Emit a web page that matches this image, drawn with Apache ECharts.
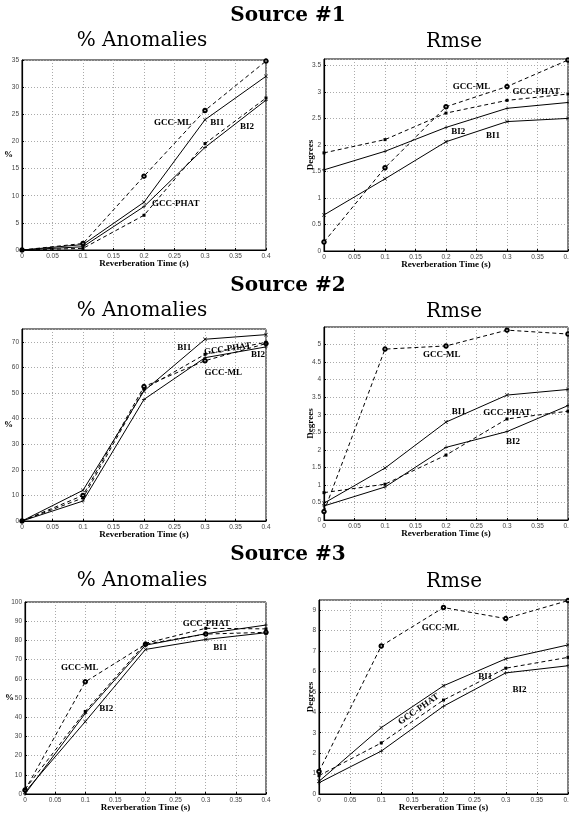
<!DOCTYPE html>
<html><head><meta charset="utf-8">
<script src="https://cdn.jsdelivr.net/npm/echarts@6/dist/echarts.min.js"></script>
<style>html,body{margin:0;padding:0;background:#fff}#c{width:569px;height:813px}</style>
</head><body><div id="c"></div>
<script>
// ---------- data ----------
const xTimes = [0, 0.1, 0.2, 0.3, 0.4];
const xTickLabels = ['0','0.05','0.1','0.15','0.2','0.25','0.3','0.35','0.4'];
const sourceTitles = ['Source #1', 'Source #2', 'Source #3'];
const seriesNames = ['GCC-ML', 'GCC-PHAT', 'BI1', 'BI2'];

// Source 1
const s1AnomGccMl   = [0, 1.2, 13.6, 25.7, 34.8];
const s1AnomGccPhat = [0, 0.3, 6.4, 19.6, 28.0];
const s1AnomBi1     = [0, 1.0, 8.8, 24.0, 32.0];
const s1AnomBi2     = [0, 0.6, 8.0, 18.9, 27.6];
const s1RmseGccMl   = [0.17, 1.57, 2.72, 3.10, 3.60];
const s1RmseGccPhat = [1.85, 2.10, 2.60, 2.84, 2.96];
const s1RmseBi1     = [0.68, 1.36, 2.06, 2.44, 2.50];
const s1RmseBi2     = [1.53, 1.88, 2.33, 2.69, 2.80];
// Source 2
const s2AnomGccMl   = [0, 10, 52.5, 62.6, 69.3];
const s2AnomGccPhat = [0, 9, 51.5, 65.1, 69.8];
const s2AnomBi1     = [0, 12, 50.8, 71.0, 72.8];
const s2AnomBi2     = [0, 7.8, 47.5, 63.8, 68.0];
const s2RmseGccMl   = [0.24, 4.87, 4.96, 5.41, 5.30];
const s2RmseGccPhat = [0.78, 1.02, 1.85, 2.88, 3.10];
const s2RmseBi1     = [0.48, 1.48, 2.79, 3.56, 3.72];
const s2RmseBi2     = [0.40, 0.94, 2.07, 2.52, 3.26];
// Source 3
const s3AnomGccMl   = [2, 58.4, 78.0, 83.3, 84.2];
const s3AnomGccPhat = [2.5, 43, 78.5, 86.3, 86.0];
const s3AnomBi1     = [1, 37.7, 75.3, 80.5, 84.0];
const s3AnomBi2     = [0, 42, 77.5, 83.5, 88.0];
const s3RmseGccMl   = [1.10, 7.25, 9.13, 8.59, 9.47];
const s3RmseGccPhat = [0.90, 2.50, 4.60, 6.16, 6.69];
const s3RmseBi1     = [0.62, 3.25, 5.30, 6.62, 7.30];
const s3RmseBi2     = [0.55, 2.10, 4.30, 5.93, 6.28];

// in-plot labels: [text, x, y, rotation]
const notes = [
  [['GCC-ML',0.247,23.4,0],['BI1',0.32,23.4,0],['BI2',0.369,22.7,0],['GCC-PHAT',0.252,8.5,0]],
  [['GCC-ML',0.242,3.09,0],['GCC-PHAT',0.348,3.0,0],['BI2',0.22,2.25,0],['BI1',0.277,2.17,0]],
  [['BI1',0.266,67.7,0],['GCC-PHAT',0.337,67.2,8],['BI2',0.387,65.1,0],['GCC-ML',0.33,58,0]],
  [['GCC-ML',0.193,4.71,0],['BI1',0.221,3.09,0],['GCC-PHAT',0.30,3.07,0],['BI2',0.31,2.22,0]],
  [['GCC-PHAT',0.301,88.9,0],['BI1',0.324,76.4,0],['GCC-ML',0.091,66,0],['BI2',0.135,44.6,0]],
  [['GCC-ML',0.195,8.16,0],['BI1',0.267,5.75,0],['BI2',0.322,5.13,0],['GCC-PHAT',0.16,4.15,35]]
];

const panelData = [
  [s1AnomGccMl, s1AnomGccPhat, s1AnomBi1, s1AnomBi2],
  [s1RmseGccMl, s1RmseGccPhat, s1RmseBi1, s1RmseBi2],
  [s2AnomGccMl, s2AnomGccPhat, s2AnomBi1, s2AnomBi2],
  [s2RmseGccMl, s2RmseGccPhat, s2RmseBi1, s2RmseBi2],
  [s3AnomGccMl, s3AnomGccPhat, s3AnomBi1, s3AnomBi2],
  [s3RmseGccMl, s3RmseGccPhat, s3RmseBi1, s3RmseBi2]
];
const yMax = [35, 3.62, 75, 5.5, 100, 9.5];
const yInterval = [5, 0.5, 10, 0.5, 10, 1];
const yShowMax = [true, false, false, false, true, false];
const yNames = ['%', 'Degrees', '%', 'Degrees', '%', 'Degrees'];

// ---------- layout / style ----------
const grids = [
  {left:22, top:60, width:244, height:190},
  {left:324, top:59, width:244, height:192},
  {left:22, top:329, width:244, height:192},
  {left:324, top:327, width:244, height:193},
  {left:25, top:602, width:241, height:192},
  {left:319, top:600, width:249, height:194}
];
const yNameGaps = [9, 9, 9, 9, 11, 4];
const serif = '"DejaVu Serif", "Liberation Serif", serif';
const tserif = '"Liberation Serif", "DejaVu Serif", serif';
const sans = '"Liberation Sans", Arial, sans-serif';
const symX = 'path://M0,1L1,0L5,4L9,0L10,1L6,5L10,9L9,10L5,6L1,10L0,9L4,5Z';
const symPlus = 'path://M4.3,0H5.7V4.3H10V5.7H5.7V10H4.3V5.7H0V4.3H4.3Z';
const styles = [
  {type:'dashed', symbol:'emptyCircle', size:3.5},
  {type:'dashed', symbol:'rect', size:3},
  {type:'solid', symbol:symX, size:4},
  {type:'solid', symbol:symPlus, size:4}
];

const titles = [];
const srcY = [14, 284, 553];
const subY = [38, 308, 578];
for (let r = 0; r < 3; r++) {
  titles.push({text: sourceTitles[r], left: 283, top: srcY[r] - 13, textAlign:'center',
    textStyle:{fontFamily:serif, fontWeight:'bold', fontSize:20, color:'#000'}});
  titles.push({text: '% Anomalies', left: 137, top: subY[r] - 12, textAlign:'center',
    textStyle:{fontFamily:serif, fontWeight:'normal', fontSize:20, color:'#000'}});
  titles.push({text: 'Rmse', left: 449, top: subY[r] - 11, textAlign:'center',
    textStyle:{fontFamily:serif, fontWeight:'normal', fontSize:20, color:'#000'}});
}

const xAxes = [], yAxes = [], series = [];
for (let p = 0; p < 6; p++) {
  xAxes.push({
    type:'value', gridIndex:p, min:0, max:0.4, interval:0.05,
    name:'Reverberation Time (s)', nameLocation:'middle', nameGap:9, nameMoveOverlap:false,
    nameTextStyle:{fontFamily:tserif, fontWeight:'bold', fontSize:9, color:'#000'},
    axisLine:{show:true, lineStyle:{color:'#000', width:1.2}},
    axisTick:{show:true, inside:true, length:2, lineStyle:{color:'#000'}},
    axisLabel:{fontFamily:sans, fontSize:6.5, color:'#444', margin:3,
      formatter: v => xTickLabels[Math.round(v/0.05)] ?? ''},
    splitLine:{show:true, lineStyle:{color:'#aaa', type:[1,2], width:1}}
  });
  const isDeg = yNames[p] === 'Degrees';
  yAxes.push({
    type:'value', gridIndex:p, min:0, max:yMax[p], interval:yInterval[p],
    name:yNames[p], nameLocation:'middle', nameGap: yNameGaps[p], nameMoveOverlap:false,
    nameRotate: isDeg ? 90 : 0,
    nameTextStyle:{fontFamily:tserif, fontWeight:'bold', fontSize:9, color:'#000'},
    axisLine:{show:true, lineStyle:{color:'#000', width:1.2}},
    axisTick:{show:true, inside:true, length:2, lineStyle:{color:'#000'}},
    axisLabel:{fontFamily:sans, fontSize:6.5, color:'#444', margin:3, showMaxLabel:yShowMax[p]},
    splitLine:{show:true, lineStyle:{color:'#aaa', type:[1,2], width:1}}
  });
  for (let s = 0; s < 4; s++) {
    const st = styles[s];
    const ser = {
      name: seriesNames[s], type:'line', xAxisIndex:p, yAxisIndex:p,
      data: xTimes.map((x, i) => [x, panelData[p][s][i]]),
      symbol: st.symbol, symbolSize: st.size, showAllSymbol:true,
      lineStyle:{color:'#000', width:1, type: st.type === 'dashed' ? [4,3] : 'solid'},
      itemStyle:{color:'#000', borderColor:'#000', borderWidth: st.symbol==='emptyCircle'?0.8:0},
      emphasis:{disabled:true}, animation:false, clip:false, z:3
    };
    if (s === 0) {
      ser.markPoint = {
        symbol:'circle', symbolSize:1, animation:false, silent:true,
        itemStyle:{color:'rgba(0,0,0,0)', borderWidth:0},
        data: notes[p].map(n => ({coord:[n[1], n[2]], value:n[0],
          label:{show:true, formatter:n[0], rotate:n[3], position:'inside',
            fontFamily:tserif, fontWeight:'bold', fontSize:9, color:'#000'}}))
      };
    }
    series.push(ser);
  }
}

const chart = echarts.init(document.getElementById('c'), null, {renderer:'canvas'});
chart.setOption({
  backgroundColor:'#fff',
  animation:false,
  title: titles,
  grid: grids.map(g => Object.assign({show:true, borderColor:'#000', borderWidth:1,
    backgroundColor:'transparent', containLabel:false, outerBoundsMode:'none'}, g)),
  xAxis: xAxes, yAxis: yAxes, series: series
});
</script></body></html>
